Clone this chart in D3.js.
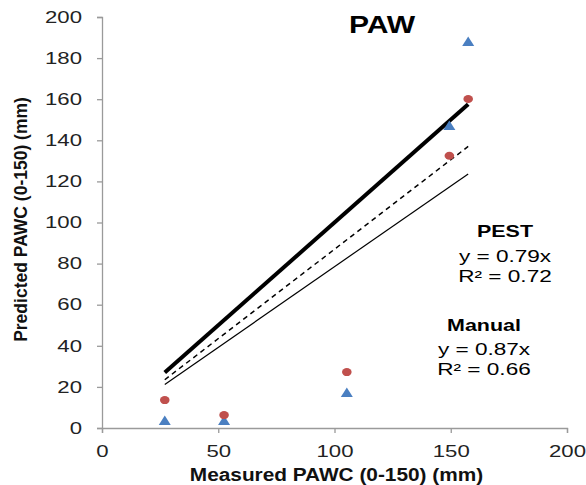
<!DOCTYPE html>
<html>
<head>
<meta charset="utf-8">
<script src="https://cdn.jsdelivr.net/npm/d3@7"></script>
<style>
  body { margin: 0; background: #fff; }
  svg { font-family: "Liberation Sans", Arial, sans-serif; }
</style>
</head>
<body>
<div id="chart"></div>
<script>
// measured vs predicted PAWC (mm)
const measured = [27, 52.5, 105.3, 149.4, 157.5];
const redPredicted = [13.6, 6.3, 27.2, 132.5, 160.1];
const bluePredicted = [3.4, 3.4, 17, 147, 187.8];
const xTicks = [0, 50, 100, 150, 200];
const yTicks = [0, 20, 40, 60, 80, 100, 120, 140, 160, 180, 200];
const fitRange = [27, 157.5];
const fits = [
  { name: "1:1", slope: 1.0 },
  { name: "Manual", slope: 0.87 },
  { name: "PEST", slope: 0.785 }
];
const notes = [
  { title: "PEST", eq: "y = 0.79x", r2: "R² = 0.72" },
  { title: "Manual", eq: "y = 0.87x", r2: "R² = 0.66" }
];

const W = 586, H = 485;
const svg = d3.select("#chart").append("svg")
  .attr("width", W).attr("height", H);

const x = d3.scaleLinear().domain([0, 200]).range([102, 567]);
const y = d3.scaleLinear().domain([0, 200]).range([428, 17]);

// stretched text helper (the original glyphs are wide)
function label(txt, px, py, opts) {
  return svg.append("text")
    .attr("transform", `translate(${px},${py}) scale(${opts.sx || 1},1)`)
    .attr("text-anchor", opts.anchor || "middle")
    .style("font-size", opts.size + "px")
    .style("font-weight", opts.bold ? "bold" : "normal")
    .style("fill", opts.fill || "#000")
    .text(txt);
}

const tickSx = 1.36;

const gx = svg.append("g")
  .attr("transform", `translate(0,${y(0)})`)
  .call(d3.axisBottom(x).tickValues(xTicks).tickSize(5).tickSizeOuter(5).tickPadding(0));
gx.selectAll("text")
  .attr("y", 17)
  .attr("transform", `scale(${tickSx},1)`)
  .attr("x", 0)
  .style("font-size", "16.3px")
  .style("fill", "#222");
gx.selectAll(".tick").each(function(d) {
  d3.select(this).select("text").attr("transform", `scale(${tickSx},1)`);
});

const gy = svg.append("g")
  .attr("transform", `translate(${x(0)},0)`)
  .call(d3.axisLeft(y).tickValues(yTicks).tickSize(5).tickSizeOuter(5).tickPadding(0));
gy.selectAll("text")
  .attr("x", -20 / tickSx)
  .attr("transform", `scale(${tickSx},1)`)
  .style("font-size", "16.3px")
  .style("fill", "#222");

svg.selectAll(".domain, .tick line")
  .attr("stroke", "#9a9a9a")
  .attr("stroke-width", 1.3);

// fitted lines
const lineStyles = {
  "1:1": { w: 4, dash: null },
  "Manual": { w: 1.5, dash: "5,4" },
  "PEST": { w: 1.2, dash: null }
};
svg.selectAll(".fit")
  .data(fits)
  .enter()
  .append("line")
  .attr("class", "fit")
  .attr("x1", x(fitRange[0]))
  .attr("y1", d => y(d.slope * fitRange[0]))
  .attr("x2", x(fitRange[1]))
  .attr("y2", d => y(d.slope * fitRange[1]))
  .attr("stroke", "#000")
  .attr("stroke-width", d => lineStyles[d.name].w)
  .attr("stroke-dasharray", d => lineStyles[d.name].dash);

// points
svg.selectAll(".tri")
  .data(measured.map((m, i) => [m, bluePredicted[i]]))
  .enter()
  .append("path")
  .attr("class", "tri")
  .attr("transform", d => `translate(${x(d[0])},${y(d[1])})`)
  .attr("d", "M0,-5.5L6,4L-6,4Z")
  .attr("fill", "#4a7fc1");

svg.selectAll(".dot")
  .data(measured.map((m, i) => [m, redPredicted[i]]))
  .enter()
  .append("ellipse")
  .attr("class", "dot")
  .attr("cx", d => x(d[0]))
  .attr("cy", d => y(d[1]))
  .attr("rx", 4.8)
  .attr("ry", 4)
  .attr("fill", "#c0504d");

// title and annotations
label("PAW", 382, 33, { size: 23.3, bold: true, sx: 1.29 });

const notePos = [
  { cx: 505, t: 237, e: 262, r: 282 },
  { cx: 484, t: 331, e: 355, r: 375 }
];
notes.forEach((n, i) => {
  const p = notePos[i];
  label(n.title, p.cx, p.t, { size: 16.5, bold: true, sx: 1.3 });
  label(n.eq, p.cx, p.e, { size: 16.5, sx: 1.37 });
  label(n.r2, p.cx, p.r, { size: 16.5, sx: 1.37 });
});

// axis titles
label("Measured PAWC (0-150) (mm)", 336.5, 481, { size: 17.5, bold: true, sx: 1.19, fill: "#111" });
svg.append("text")
  .attr("transform", "translate(27,219.5) rotate(-90)")
  .attr("text-anchor", "middle")
  .style("font-size", "17.5px")
  .style("font-weight", "bold")
  .style("fill", "#111")
  .text("Predicted PAWC (0-150) (mm)");
</script>
</body>
</html>
